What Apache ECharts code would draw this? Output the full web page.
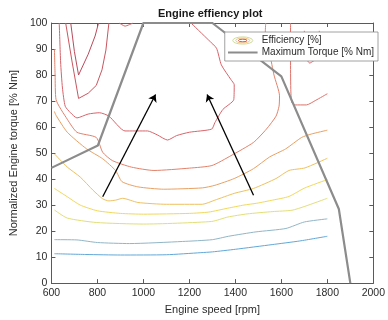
<!DOCTYPE html>
<html>
<head>
<meta charset="utf-8">
<script src="https://cdn.jsdelivr.net/npm/echarts@6/dist/echarts.min.js"></script>
<style>
  html, body { margin: 0; padding: 0; background: #fff; }
  #chart { width: 388px; height: 320px; }
</style>
</head>
<body>
<div id="chart"></div>
<script>
// Axis ranges (rpm, % Nm)
const speedRange = [600, 2000];
const speedStep = 200;
const torqueRange = [0, 100];
const torqueStep = 10;

// Efficiency contour lines, [engine speed rpm, torque % Nm], lowest level first
const effContour1 = [[613, 11.3], [750, 11.0], [900, 10.8], [1100, 10.9], [1250, 11.7], [1300, 12.0], [1400, 13.0], [1560, 14.8], [1680, 16.2], [1800, 18.0]];
const effContour2 = [[613, 16.7], [711, 16.6], [800, 15.6], [940, 15.2], [1170, 16.0], [1300, 16.7], [1370, 18.0], [1490, 19.7], [1620, 21.0], [1700, 23.5], [1800, 24.7]];
const effContour3 = [[613, 28.1], [669, 25.0], [795, 23.3], [1000, 22.7], [1297, 23.7], [1367, 25.4], [1451, 26.6], [1563, 27.5], [1646, 28.0], [1702, 29.5], [1800, 32.6]];
const effContour4 = [[613, 36.4], [669, 33.2], [725, 30.0], [800, 27.8], [900, 26.8], [1000, 26.5], [1200, 26.8], [1284, 27.3], [1367, 28.8], [1437, 30.0], [1493, 30.7], [1562, 31.9], [1633, 33.3], [1700, 36.5], [1800, 39.8]];
const effContour5 = [[613, 49.7], [669, 44.6], [725, 40.8], [781, 35.7], [823, 32.4], [850, 31.6], [879, 31.9], [910, 32.6], [976, 31.0], [1100, 30.3], [1256, 30.3], [1311, 31.9], [1395, 34.5], [1479, 36.4], [1577, 40.2], [1633, 43.3], [1703, 44.3], [1800, 48.0]];
const effContour6 = [[613, 66.0], [620, 64.5], [669, 58.0], [753, 51.6], [823, 47.8], [879, 43.3], [907, 39.0], [976, 37.0], [1088, 36.1], [1256, 36.6], [1311, 37.6], [1395, 40.2], [1479, 44.0], [1549, 48.5], [1619, 51.6], [1688, 56.0], [1730, 57.3], [1800, 58.8]];
const effContour7 = [[613, 90.0], [616, 80.0], [620, 70.6], [669, 63.0], [711, 58.0], [795, 56.0], [823, 50.3], [865, 47.1], [948, 44.6], [1046, 43.3], [1200, 44.2], [1298, 45.2], [1381, 49.0], [1479, 54.1], [1535, 59.2], [1577, 64.2], [1590, 68.0], [1592, 72.0], [1568, 80.0], [1550, 88.0], [1530, 96.0], [1532, 100]];
const effContour7b = [[1640, 100], [1640, 86.0], [1641, 75.0], [1645, 69.5], [1660, 68.5], [1709, 68.5], [1750, 70.3], [1800, 72.8]];
const effContour8 = [[634, 100], [640, 85.0], [648, 75.0], [660, 68.0], [683, 65.5], [711, 63.5], [760, 65.0], [809, 65.5], [850, 64.2], [920, 58.5], [1018, 58.5], [1060, 57.0], [1105, 55.0], [1144, 56.7], [1200, 58.0], [1297, 59.2], [1311, 61.7], [1346, 66.8], [1393, 70.5], [1395, 76.3], [1381, 78.2], [1339, 83.9], [1318, 90.3], [1284, 93.4], [1207, 100]];
const effContour8b = [[1700, 97.0], [1709, 86.4], [1723, 84.6], [1758, 87.1], [1765, 97.0]];
const effContour8c = [[895, 100], [920, 98.8], [955, 100]];
const effContour9 = [[662, 100], [690, 85.0], [718, 71.0], [760, 73.0], [795, 76.0], [820, 82.0], [837, 89.6], [850, 100]];
const effContour10 = [[684, 100], [700, 89.0], [718, 80.0], [760, 88.0], [790, 95.0], [805, 100]];

const contourColors = ['#62a8d8', '#91b6c6', '#e2df78', '#f1d95a', '#f0c15e', '#e9a163', '#e2826b', '#df7068', '#d8646a', '#d8646a', '#d8646a', '#c9565f', '#b84b5c'];
const contourLines = [effContour1, effContour2, effContour3, effContour4, effContour5, effContour6, effContour7, effContour7b, effContour8, effContour8b, effContour8c, effContour9, effContour10];

// Full-load (maximum torque) curve
const maxTorqueSpeed = [600, 802, 1000, 1300, 1600, 1850, 1900];
const maxTorqueValue = [44.3, 52.9, 100, 100, 79.5, 28.5, 0];

// Operating-point shift arrows: [speed, torque] tail -> head
const arrowTails = [[823, 33.2], [1479, 33.8]];
const arrowHeads = [[1053, 72.5], [1277, 72.5]];

const effName = 'Efficiency [%]';
const torqueName = 'Maximum Torque [% Nm]';
const fontFamily = '"Liberation Sans", Arial, Helvetica, sans-serif';
const axisColor = '#5a5a5a';
const textColor = '#2b2b2b';
const torqueColor = '#8c8c8c';

function svgIcon(body) {
  const svg = '<svg xmlns="http://www.w3.org/2000/svg" width="30" height="10" viewBox="0 0 30 10">' + body + '</svg>';
  return 'image://data:image/svg+xml;charset=utf-8,' + encodeURIComponent(svg);
}
const effIcon = svgIcon(
  '<ellipse cx="15" cy="5" rx="10" ry="3.6" fill="none" stroke="#cddc9c" stroke-width="1"/>' +
  '<ellipse cx="15" cy="5" rx="7" ry="2.4" fill="none" stroke="#f0c77e" stroke-width="1"/>' +
  '<ellipse cx="15" cy="5" rx="4.3" ry="1.3" fill="none" stroke="#d2555a" stroke-width="1"/>');
const torqueIcon = svgIcon('<rect x="0" y="4" width="30" height="2" fill="' + torqueColor + '"/>');

const series = contourLines.map((pts, i) => ({
  name: effName,
  type: 'line',
  data: pts,
  symbol: 'none',
  showSymbol: false,
  smooth: (i >= 11) ? false : 0.2,
  lineStyle: { color: contourColors[i], width: 1 },
  itemStyle: { color: contourColors[i] },
  z: 2
}));

series.push({
  name: torqueName,
  type: 'line',
  data: maxTorqueSpeed.map((s, i) => [s, maxTorqueValue[i]]),
  symbol: 'none',
  showSymbol: false,
  lineStyle: { color: torqueColor, width: 2.2 },
  itemStyle: { color: torqueColor },
  z: 3
});

series.push({
  name: 'shift',
  type: 'lines',
  coordinateSystem: 'cartesian2d',
  symbol: ['none', 'arrow'],
  symbolSize: 7,
  lineStyle: { color: '#000', width: 1.3, opacity: 1 },
  data: arrowTails.map((t, i) => ({ coords: [t, arrowHeads[i]] })),
  z: 5
});

function axisBase(extra) {
  return Object.assign({
    type: 'value',
    axisLine: { show: true, onZero: false, lineStyle: { color: axisColor, width: 1 } },
    axisTick: { show: true, inside: true, length: 4, lineStyle: { color: axisColor, width: 1 } },
    splitLine: { show: false }
  }, extra);
}

const plain = v => String(v);

const chart = echarts.init(document.getElementById('chart'), null, { renderer: 'canvas' });
chart.setOption({
  animation: false,
  backgroundColor: '#fff',
  title: {
    text: 'Engine effiency plot',
    left: 158,
    top: 8,
    padding: 0,
    textStyle: { fontFamily, fontSize: 11, fontWeight: 'bold', color: '#1a1a1a' }
  },
  legend: {
    orient: 'vertical',
    right: 10,
    top: 32,
    padding: [3, 4, 3, 3],
    itemGap: 1,
    itemWidth: 30,
    itemHeight: 10,
    backgroundColor: '#fff',
    borderColor: '#8a8a8a',
    borderWidth: 0.8,
    borderRadius: 0,
    selectedMode: false,
    textStyle: { fontFamily, fontSize: 10, color: textColor, lineHeight: 11, padding: [0, 0, 0, -1] },
    data: [
      { name: effName, icon: effIcon },
      { name: torqueName, icon: torqueIcon }
    ],
    z: 10
  },
  grid: { left: 44, right: 10, top: 23, bottom: 34, containLabel: false },
  xAxis: [
    axisBase({
      min: speedRange[0], max: speedRange[1], interval: speedStep,
      position: 'bottom',
      axisLabel: { color: textColor, fontFamily, fontSize: 10.5, margin: 5, formatter: plain },
      name: 'Engine speed [rpm]',
      nameLocation: 'middle',
      nameGap: 19,
      nameTextStyle: { fontFamily, fontSize: 11, color: textColor }
    }),
    axisBase({
      min: speedRange[0], max: speedRange[1], interval: speedStep,
      position: 'top',
      axisLabel: { show: false }
    })
  ],
  yAxis: [
    axisBase({
      min: torqueRange[0], max: torqueRange[1], interval: torqueStep,
      position: 'left',
      axisLabel: { color: textColor, fontFamily, fontSize: 10.5, margin: 4, formatter: plain },
      name: 'Normalized Engine torque [% Nm]',
      nameLocation: 'middle',
      nameGap: 27,
      nameTextStyle: { fontFamily, fontSize: 11, color: textColor }
    }),
    axisBase({
      min: torqueRange[0], max: torqueRange[1], interval: torqueStep,
      position: 'right',
      axisLabel: { show: false }
    })
  ],
  series
});
</script>
</body>
</html>
